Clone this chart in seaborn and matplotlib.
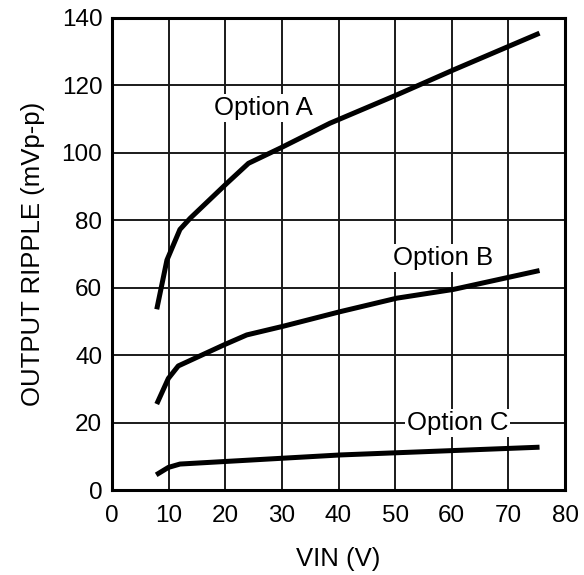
import matplotlib
matplotlib.use("Agg")
import matplotlib.pyplot as plt
import seaborn as sns
import pandas as pd

# Output ripple vs input voltage for three output-capacitor options
vin_a = [7.9, 9.7, 12.0, 13.8, 20.3, 24.1, 29.7, 38.5, 50.3, 60.3, 75.5]
ripple_a = [53.6, 68.2, 77.3, 80.6, 91.0, 96.9, 101.4, 108.8, 117.2, 124.6, 135.5]

vin_b = [7.9, 9.95, 11.7, 19.7, 23.8, 30.3, 40.3, 50.3, 60.3, 75.5]
ripple_b = [25.5, 33.1, 36.8, 43.0, 46.0, 48.6, 52.9, 56.9, 59.5, 65.1]

vin_c = [7.8, 9.95, 12.0, 40.3, 75.5]
ripple_c = [4.5, 6.7, 7.7, 10.4, 12.7]

series_names = ["Option A", "Option B", "Option C"]
label_pos = [(26.7, 111.2), (58.5, 66.7), (61.0, 17.8)]

x_ticks = [0, 10, 20, 30, 40, 50, 60, 70, 80]
y_ticks = [0, 20, 40, 60, 80, 100, 120, 140]

df = pd.concat([
    pd.DataFrame({"VIN": vin_a, "Ripple": ripple_a, "Series": series_names[0]}),
    pd.DataFrame({"VIN": vin_b, "Ripple": ripple_b, "Series": series_names[1]}),
    pd.DataFrame({"VIN": vin_c, "Ripple": ripple_c, "Series": series_names[2]}),
])

sns.set_style("white")
plt.rcParams["font.family"] = ["Liberation Sans", "DejaVu Sans"]
plt.rcParams["text.color"] = "black"
plt.rcParams["axes.labelcolor"] = "black"

fig = plt.figure(figsize=(5.84, 5.75), dpi=100)
ax = fig.add_axes([0.1918, 0.1478, 0.7757, 0.8209])

sns.lineplot(data=df, x="VIN", y="Ripple", hue="Series", units="Series",
             estimator=None, sort=False,
             palette=["black"] * 3, linewidth=3.6, legend=False, ax=ax,
             zorder=3)
for line in ax.get_lines():
    line.set_solid_capstyle("butt")

for name, (tx, ty) in zip(series_names, label_pos):
    ax.text(tx, ty, name, ha="center", va="baseline", fontsize=18.5,
            color="black", zorder=4,
            bbox=dict(facecolor="white", edgecolor="none", pad=1.5))

ax.set_xlim(0, 80)
ax.set_ylim(0, 140)
ax.set_xticks(x_ticks)
ax.set_yticks(y_ticks)
ax.tick_params(axis="both", length=0, labelsize=17.5, colors="black")
ax.tick_params(axis="x", pad=11)
ax.tick_params(axis="y", pad=7)
ax.grid(True, color="#1a1a1a", linewidth=1.4, zorder=1)
ax.set_axisbelow(True)
for s in ax.spines.values():
    s.set_color("black")
    s.set_linewidth(2.2)

ax.set_xlabel("VIN (V)", fontsize=18.5, labelpad=14, color="black")
ax.set_ylabel("OUTPUT RIPPLE (mVp-p)", fontsize=18.5, labelpad=12,
              color="black")

fig.savefig("out.png", dpi=100, facecolor="white")
